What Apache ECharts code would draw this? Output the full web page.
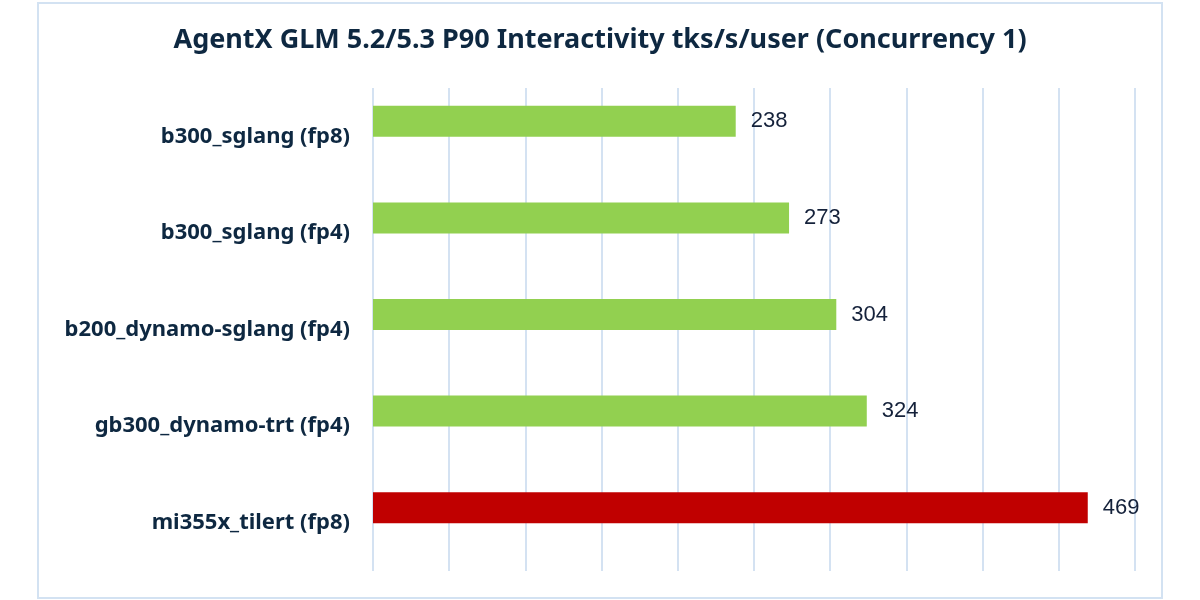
<!DOCTYPE html>
<html>
<head>
<meta charset="utf-8">
<script src="https://cdn.jsdelivr.net/npm/echarts@6/dist/echarts.min.js"></script>
<style>
  html, body { margin: 0; padding: 0; background: #fff; }
  #main { width: 1200px; height: 600px; }
</style>
</head>
<body>
<div id="main"></div>
<script>
var chart = echarts.init(document.getElementById('main'));

var categories = ['b300_sglang (fp8)', 'b300_sglang (fp4)', 'b200_dynamo-sglang (fp4)', 'gb300_dynamo-trt (fp4)', 'mi355x_tilert (fp8)'];
var values = [238, 273, 304, 324, 469];
var barColors = ['#92d050', '#92d050', '#92d050', '#92d050', '#c00000'];

var gridLine = '#c6d9ee';
var textDark = '#0e2841';

var option = {
    animation: false,
    title: {
        text: 'AgentX GLM 5.2/5.3 P90 Interactivity tks/s/user (Concurrency 1)',
        left: 'center',
        top: 22,
        textStyle: {
            fontFamily: 'Noto Sans',
            fontWeight: 'bold',
            fontSize: 27,
            color: textDark
        }
    },
    graphic: [{
        type: 'rect',
        shape: { x: 38, y: 3, width: 1124, height: 595 },
        style: { fill: 'none', stroke: '#d3e2f2', lineWidth: 2 },
        z: -1
    }],
    grid: [
        // bars sit a little above the gridline band, as in the original
        { left: 373, width: 762, top: 73, height: 483 },
        // gridlines + category labels
        { left: 373, width: 762, top: 88, height: 483 }
    ],
    xAxis: [{
        gridIndex: 0,
        type: 'value',
        min: 0,
        max: 500,
        interval: 50,
        show: false
    }, {
        gridIndex: 1,
        type: 'value',
        min: 0,
        max: 500,
        interval: 50,
        axisLabel: { show: false },
        axisTick: { show: false },
        axisLine: { show: false },
        splitLine: { show: true, lineStyle: { color: gridLine, width: 1.5 } }
    }],
    yAxis: [{
        gridIndex: 0,
        type: 'category',
        data: categories,
        inverse: true,
        show: false
    }, {
        gridIndex: 1,
        type: 'category',
        data: categories,
        inverse: true,
        axisTick: { show: false },
        axisLine: { show: false },
        axisLabel: {
            margin: 23,
            fontFamily: 'Noto Sans',
            fontWeight: 'bold',
            fontSize: 22,
            color: textDark
        }
    }],
    series: [{
        type: 'bar',
        xAxisIndex: 0,
        yAxisIndex: 0,
        barWidth: 31,
        data: values.map(function (v, i) {
            return { value: v, itemStyle: { color: barColors[i] } };
        }),
        label: {
            show: true,
            position: 'right',
            distance: 15,
            fontFamily: 'Liberation Sans',
            fontSize: 22,
            color: '#14213a'
        }
    }]
};

chart.setOption(option);
</script>
</body>
</html>
